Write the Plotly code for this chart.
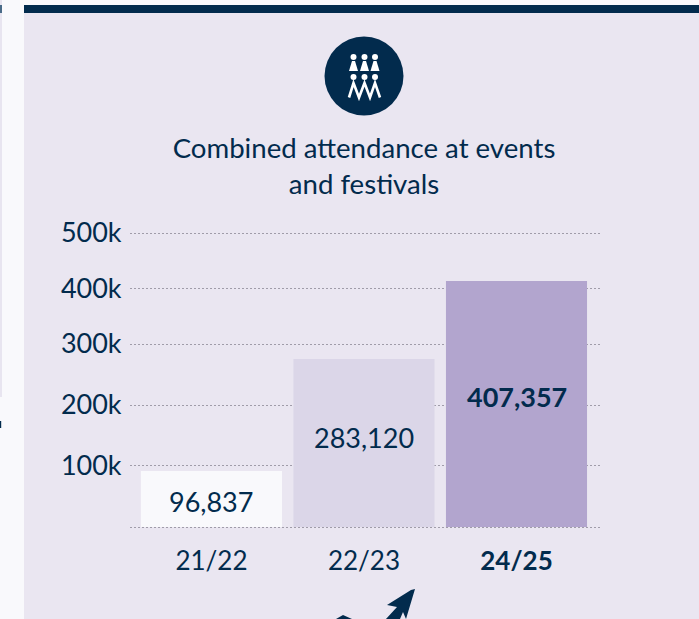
import plotly.graph_objects as go

W, H = 699, 619
L, R, T, B = 130, 601, 200, 529  # plot-area box in page pixels
NAVY = "#022B4D"
PANEL = "#EAE6F1"
PAGE = "#F9F9FC"
FONT = "Lato"

seasons = ["21/22", "22/23", "<b>24/25</b>"]
attendance = [93300, 280000, 410000]
bar_labels = ["96,837", "283,120", "<b>407,357</b>"]
label_levels = [43000, 150000, 218000]
bar_colors = ["#F9F9FC", "#DBD6E8", "#B2A5CE"]
tick_levels = [0, 101700, 203300, 305000, 398000, 490000]
tick_labels = ["", "100k", "200k", "300k", "400k", "500k"]


def px(x):
    return (x - L) / (R - L)


def py(y):
    return (B - y) / (B - T)


def path(points):
    return "M" + " L".join(f"{px(x):.5f},{py(y):.5f}" for x, y in points) + " Z"


def poly(points, color):
    return dict(type="path", xref="paper", yref="paper", path=path(points),
                fillcolor=color, line=dict(width=0), layer="below")


def rect(x0, y0, x1, y1, color):
    return dict(type="rect", xref="paper", yref="paper", x0=px(x0), x1=px(x1),
                y0=py(y0), y1=py(y1), fillcolor=color, line=dict(width=0), layer="below")


def disc(cx, cy, r, color, layer="below"):
    return dict(type="circle", xref="paper", yref="paper", x0=px(cx - r), x1=px(cx + r),
                y0=py(cy - r), y1=py(cy + r), fillcolor=color, line=dict(width=0), layer=layer)


shapes = [
    rect(24, 13, 699, 619, PANEL),
    rect(24, 5, 699, 13, NAVY),
    rect(0, 0, 2, 397, "#E8E5F0"),
    rect(0, 5, 2, 13, "#4A6B88"),
    rect(0, 421, 1.2, 428, NAVY),
    disc(364, 76, 39.5, NAVY),
]
for cx in (353.5, 364.5, 375):
    shapes.append(disc(cx, 57, 3, "white"))
    shapes.append(poly([(cx - 1.5, 61), (cx + 1.5, 61), (cx + 4.5, 71),
                        (cx - 4.5, 71)], "white"))
    shapes.append(disc(cx, 77, 3, "white"))
shapes.append(dict(type="path", xref="paper", yref="paper", layer="below",
                   path="M" + " L".join(f"{px(x):.5f},{py(y):.5f}" for x, y in
                                        [(349, 97.5), (353.5, 83), (359, 97.5), (364.5, 83),
                                         (370, 97.5), (375, 83), (380, 97.5)]),
                   line=dict(color="white", width=2.6), fillcolor="rgba(0,0,0,0)"))
# arrow cut off by the bottom edge
shapes += [
    poly([(415, 589), (406, 619), (403, 612), (400, 619), (386, 619),
          (397, 607), (387, 605), (411, 590)], NAVY),
    poly([(336, 619), (343, 615), (352, 619)], NAVY),
]

fig = go.Figure(go.Bar(
    x=seasons, y=attendance, width=0.925,
    marker=dict(color=bar_colors, line=dict(width=0)),
    hoverinfo="skip",
))

annotations = [
    dict(x=s, y=v, xref="x", yref="y", text=t, showarrow=False,
         font=dict(family=FONT, size=27, color=NAVY))
    for s, v, t in zip(seasons, label_levels, bar_labels)
]

fig.update_layout(
    width=W, height=H, autosize=False,
    paper_bgcolor=PAGE, plot_bgcolor="rgba(0,0,0,0)",
    margin=dict(l=L, r=W - R, t=T, b=H - B),
    showlegend=False,
    font=dict(family=FONT, color=NAVY),
    title=dict(text="Combined attendance at events<br>and festivals",
               x=364 / W, xanchor="center", xref="container",
               y=1 - 158 / H, yanchor="top",
               font=dict(family=FONT, size=27.6, color=NAVY)),
    shapes=shapes,
    annotations=annotations,
    xaxis=dict(type="category", range=[-0.534, 2.554], showgrid=False, zeroline=False,
               showline=False, ticks="outside", ticklen=9, tickcolor="rgba(0,0,0,0)",
               tickfont=dict(family=FONT, size=26, color=NAVY)),
    yaxis=dict(range=[-3333, 545000], tickvals=tick_levels, ticktext=tick_labels,
               showgrid=True, gridcolor="#A09CA9", griddash="2px,2px", gridwidth=1,
               zeroline=False, showline=False, ticks="outside", ticklen=2,
               tickcolor="rgba(0,0,0,0)",
               tickfont=dict(family=FONT, size=27, color=NAVY)),
)

fig.write_html("out.html", config=dict(displayModeBar=False),
               post_script="document.body.style.margin='0';document.body.style.overflow='hidden';")
